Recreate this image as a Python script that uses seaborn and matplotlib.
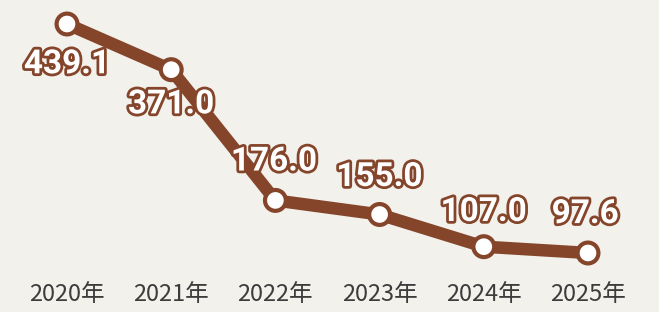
import matplotlib
matplotlib.use("Agg")
import matplotlib.pyplot as plt
import matplotlib.patheffects as pe
import pandas as pd
import seaborn as sns

# data
years = ["2020年", "2021年", "2022年", "2023年", "2024年", "2025年"]
values = [439.1, 371.0, 176.0, 155.0, 107.0, 97.6]
label_text = ["439.1", "371.0", "176.0", "155.0", "107.0", "97.6"]
# label offsets (points) relative to each marker
label_dx = [0, 0, -1, 0, 0, -2]
label_dy = [-29, -25, 28, 27, 25, 28]

BG = "#f3f1ec"
BROWN = "#84452b"

df = pd.DataFrame({"idx": range(len(years)), "value": values})

sns.set_style("white")
plt.rcParams["font.family"] = ["Noto Sans CJK SC", "DejaVu Sans"]

fig = plt.figure(figsize=(6.59, 3.12), dpi=100)
fig.patch.set_facecolor(BG)
ax = fig.add_axes([0, 32 / 312, 1, 280 / 312])
ax.set_facecolor(BG)

sns.lineplot(data=df, x="idx", y="value", ax=ax, color=BROWN, linewidth=9,
             solid_joinstyle="round", solid_capstyle="round", zorder=2)
ax.plot(df["idx"], df["value"], linestyle="none", marker="o", markersize=15,
        markerfacecolor="white", markeredgecolor=BROWN, markeredgewidth=3,
        zorder=3,
        path_effects=[pe.SimplePatchShadow(offset=(0.8, -0.8), alpha=0.3), pe.Normal()])

for i, (v, t) in enumerate(zip(values, label_text)):
    ax.annotate(t, (i, v), xytext=(label_dx[i], label_dy[i]), textcoords="offset points",
                ha="center", va="center", fontsize=24, fontweight="bold",
                family=["Roboto", "DejaVu Sans"], color="white",
                path_effects=[pe.withStroke(linewidth=4, foreground=BROWN)], zorder=4)

ax.set_xlim(-67 / 104.2, (659 - 67) / 104.2)
ax.set_ylim(57.3, 474.9)
ax.set_xticks(range(len(years)))
ax.set_xticklabels(years, fontsize=17, color="#3c3c3c")
ax.set_yticks([])
ax.set_xlabel("")
ax.set_ylabel("")
ax.tick_params(axis="x", length=0, pad=2)
sns.despine(ax=ax, left=True, bottom=True)

fig.savefig("out.png", dpi=100, facecolor=BG)
